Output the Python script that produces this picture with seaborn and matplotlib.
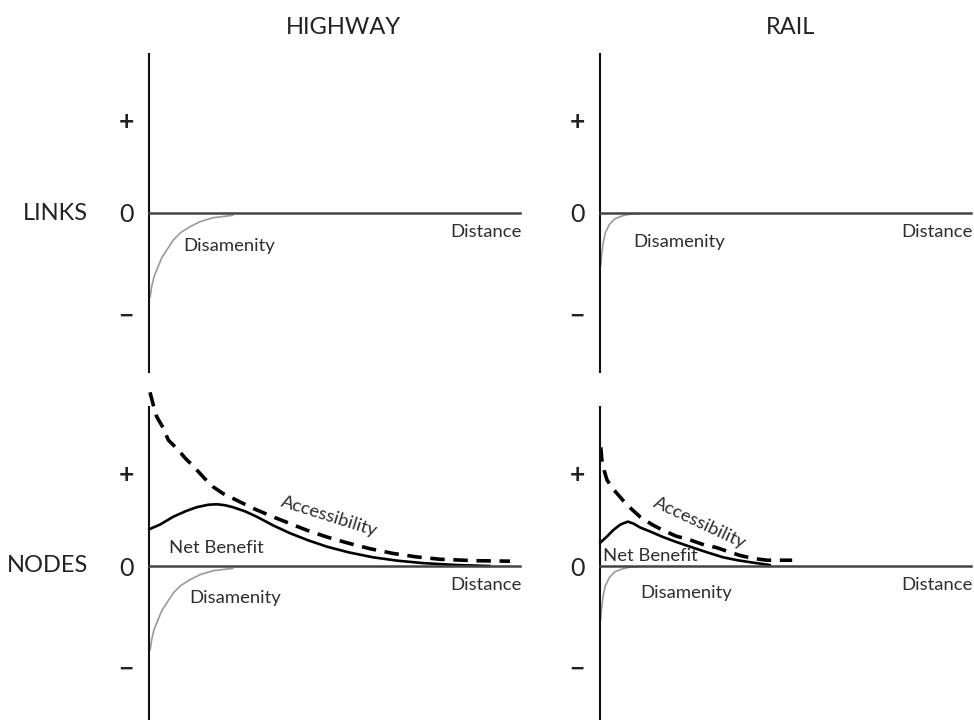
import matplotlib
matplotlib.use("Agg")
import matplotlib.pyplot as plt
import seaborn as sns

sns.set_theme(style="white")
plt.rcParams['font.family'] = ['Lato', 'DejaVu Sans']

# ---------------- data (conceptual curves) ----------------
columns = ["HIGHWAY", "RAIL"]
rows = ["LINKS", "NODES"]
tick_labels = ["+", "0", "\u2212"]

# Disamenity (negative effect close to the infrastructure)
hw_dis_x = [0.03, 0.073, 0.135, 0.21, 0.34, 0.48, 0.655, 0.84, 1.105, 1.375, 1.725, 2.26]
hw_dis_y = [-0.87, -0.764, -0.66, -0.59, -0.466, -0.383, -0.28, -0.207, -0.142, -0.09, -0.049, -0.024]
rl_dis_x = [0.02, 0.04, 0.08, 0.14, 0.25, 0.40, 0.60, 0.80, 1.05]
rl_dis_y = [-0.55, -0.45, -0.32, -0.21, -0.12, -0.06, -0.03, -0.012, -0.005]

# Accessibility (positive effect around nodes)
hw_acc_x = [0.027, 0.116, 0.208, 0.385, 0.52, 0.79, 0.97, 1.24, 1.48, 1.73, 2.0, 2.37,
            2.85, 3.34, 3.8, 4.26, 4.8, 5.34, 5.95, 6.58, 7.2, 7.84, 8.8, 9.73]
hw_acc_y = [1.80, 1.668, 1.547, 1.43, 1.306, 1.202, 1.12, 1.016, 0.915, 0.82, 0.75, 0.68,
            0.59, 0.51, 0.44, 0.37, 0.30, 0.24, 0.18, 0.13, 0.095, 0.07, 0.055, 0.05]
rl_acc_x = [0.02, 0.05, 0.12, 0.19, 0.35, 0.62, 0.85, 1.08, 1.40, 1.70, 2.05, 2.43,
            2.80, 3.15, 3.45, 3.77, 4.10, 4.50, 5.18]
rl_acc_y = [1.23, 1.10, 0.98, 0.89, 0.80, 0.68, 0.59, 0.51, 0.43, 0.37, 0.31, 0.27,
            0.22, 0.19, 0.15, 0.11, 0.08, 0.06, 0.06]

# Net benefit
hw_net_x = [0.0, 0.3, 0.65, 1.0, 1.29, 1.6, 1.83, 2.05, 2.26, 2.6, 2.91, 3.35, 3.8,
            4.3, 4.8, 5.4, 6.04, 6.7, 7.39, 8.3, 9.19]
hw_net_y = [0.38, 0.43, 0.51, 0.57, 0.61, 0.635, 0.64, 0.63, 0.61, 0.565, 0.51, 0.42, 0.34,
            0.265, 0.20, 0.14, 0.09, 0.055, 0.03, 0.01, 0.0]
rl_net_x = [0.0, 0.2, 0.35, 0.55, 0.75, 0.9, 1.08, 1.4, 1.70, 2.05, 2.43, 2.9, 3.32,
            3.7, 4.04, 4.58]
rl_net_y = [0.24, 0.31, 0.37, 0.43, 0.46, 0.44, 0.40, 0.35, 0.30, 0.25, 0.20, 0.14, 0.09,
            0.06, 0.04, 0.01]

# ---------------- figure ----------------
W, H = 974, 720
fig = plt.figure(figsize=(W / 100, H / 100), dpi=100)

TXT = "#2e2e2e"
GRAY = "#9a9a9a"
LBL = 13.3


def make_ax(left_px, top_px, bottom_px, ylim):
    ax = fig.add_axes([left_px / W, 1 - bottom_px / H, 371 / W, (bottom_px - top_px) / H])
    ax.set_xlim(0, 10)
    ax.set_ylim(*ylim)
    ax.set_facecolor("none")
    for s in ["top", "right"]:
        ax.spines[s].set_visible(False)
    ax.spines["left"].set_color("#111111")
    ax.spines["left"].set_linewidth(1.5)
    ax.spines["bottom"].set_position(("data", 0))
    ax.spines["bottom"].set_color("#444444")
    ax.spines["bottom"].set_linewidth(1.8)
    ax.set_xticks([])
    ax.set_yticks([0.96, 0, -1.04])
    labs = ax.set_yticklabels(tick_labels, color="#222222")
    for t, txt in zip(labs, tick_labels):
        if txt == "0":
            t.set_fontsize(18)
        else:
            t.set_fontsize(19)
            t.set_fontweight("bold")
    ax.tick_params(axis="y", length=0, pad=11)
    ax.set_xlabel("")
    ax.set_ylabel("")
    ax.text(10.05, -0.2, "Distance", ha="right", va="center", fontsize=LBL, color=TXT)
    return ax


top_lim = (-1.648, 1.648)
bot_lim = (-1.596, 1.648)

ax_hl = make_ax(149, 54, 372, top_lim)
ax_rl = make_ax(600, 54, 372, top_lim)
ax_hn = make_ax(149, 407, 720, bot_lim)
ax_rn = make_ax(600, 407, 720, bot_lim)

dash = (0, (4.0, 2.4))

# LINKS
for ax, dx, dy, lx, ly in [(ax_hl, hw_dis_x, hw_dis_y, 0.92, -0.34),
                           (ax_rl, rl_dis_x, rl_dis_y, 0.89, -0.30)]:
    sns.lineplot(x=dx, y=dy, ax=ax, color=GRAY, linewidth=1.2, sort=False,
                 estimator=None, clip_on=False)
    ax.text(lx, ly, "Disamenity", ha="left", va="center", fontsize=LBL, color=TXT)

# NODES
for ax, dx, dy, ax_x, ax_y, nx, ny, dlx, dly, nlx, nly, alx, aly, arot in [
    (ax_hn, hw_dis_x, hw_dis_y, hw_acc_x, hw_acc_y, hw_net_x, hw_net_y,
     1.08, -0.33, 0.54, 0.19, 4.85, 0.51, -17.5),
    (ax_rn, rl_dis_x, rl_dis_y, rl_acc_x, rl_acc_y, rl_net_x, rl_net_y,
     1.08, -0.28, 0.08, 0.10, 2.70, 0.45, -25),
]:
    sns.lineplot(x=dx, y=dy, ax=ax, color=GRAY, linewidth=1.2, sort=False,
                 estimator=None, clip_on=False)
    sns.lineplot(x=ax_x, y=ax_y, ax=ax, color="black", linewidth=2.6, sort=False,
                 estimator=None, linestyle=dash, clip_on=False)
    sns.lineplot(x=nx, y=ny, ax=ax, color="black", linewidth=1.9, sort=False,
                 estimator=None, clip_on=False)
    ax.text(dlx, dly, "Disamenity", ha="left", va="center", fontsize=LBL, color=TXT)
    ax.text(nlx, nly, "Net Benefit", ha="left", va="center", fontsize=LBL, color=TXT)
    ax.text(alx, aly, "Accessibility", ha="center", va="center", fontsize=LBL,
            color=TXT, rotation=arot, rotation_mode="anchor",
            fontstyle="normal", fontweight="normal")

# Column titles and row labels
fig.text(343 / W, 1 - 28 / H, columns[0], ha="center", va="center", fontsize=17, color="#222222")
fig.text(791 / W, 1 - 28 / H, columns[1], ha="center", va="center", fontsize=17, color="#222222")
fig.text(88 / W, 1 - 213 / H, rows[0], ha="right", va="center", fontsize=17, color="#222222")
fig.text(88 / W, 1 - 566 / H, rows[1], ha="right", va="center", fontsize=17, color="#222222")

fig.savefig("out.png", dpi=100, facecolor="white")
